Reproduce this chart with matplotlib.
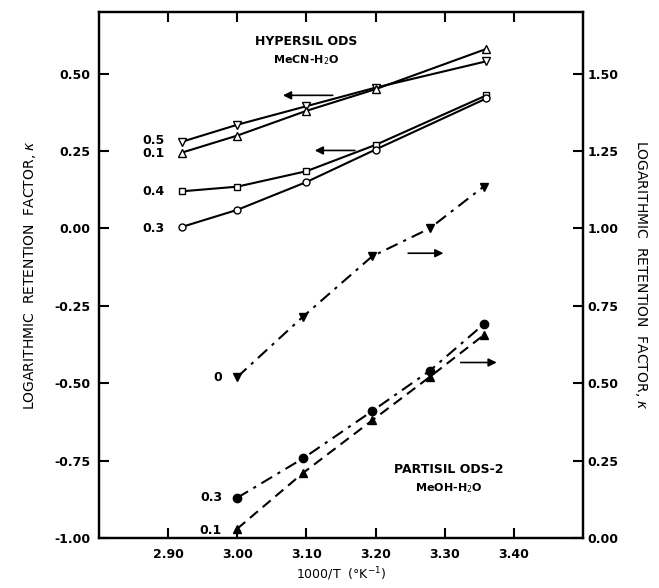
import numpy as np
import matplotlib
matplotlib.use("Agg")
import matplotlib.pyplot as plt

# Hypersil ODS, MeCN-H2O  (left axis)
x_hyp = [2.92, 3.00, 3.10, 3.20, 3.36]
hyp_05 = [0.28, 0.335, 0.395, 0.455, 0.54]
hyp_01 = [0.245, 0.30, 0.38, 0.45, 0.58]
hyp_04 = [0.12, 0.135, 0.185, 0.27, 0.43]
hyp_03 = [0.005, 0.06, 0.15, 0.255, 0.42]

# Partisil ODS-2, MeOH-H2O  (right axis)
x_par = [3.00, 3.095, 3.195, 3.278, 3.356]
par_0 = [0.52, 0.715, 0.91, 1.00, 1.135]
par_03 = [0.13, 0.257, 0.41, 0.54, 0.69]
par_01 = [0.03, 0.21, 0.38, 0.52, 0.655]

xticks = [2.90, 3.00, 3.10, 3.20, 3.30, 3.40]
yticks_left = [-1.00, -0.75, -0.50, -0.25, 0.00, 0.25, 0.50]
yticks_right = [0.00, 0.25, 0.50, 0.75, 1.00, 1.25, 1.50]

plt.rcParams['font.family'] = ['DejaVu Sans']

fig = plt.figure(figsize=(6.59, 5.88), dpi=100)
ax = fig.add_axes([0.150, 0.085, 0.735, 0.895])
ax2 = ax.twinx()

k = dict(color='black', lw=1.5, mec='black', ms=6)
ax.plot(x_hyp, hyp_05, marker='v', mfc='white', **k)
ax.plot(x_hyp, hyp_01, marker='^', mfc='white', **k)
ax.plot(x_hyp, hyp_04, marker='s', mfc='white', ms=5, color='black', lw=1.5, mec='black')
ax.plot(x_hyp, hyp_03, marker='o', mfc='white', ms=5, color='black', lw=1.5, mec='black')

ax2.plot(x_par, par_0, marker='v', mfc='black', linestyle=(0, (6, 3, 1.5, 3)), **k)
ax2.plot(x_par, par_03, marker='o', mfc='black', linestyle=(0, (6, 3, 1.5, 3)), **k)
ax2.plot(x_par, par_01, marker='^', mfc='black', linestyle=(0, (5, 3)), **k)

ax.set_xlim(2.80, 3.50)
ax.set_ylim(-1.00, 0.70)
ax2.set_ylim(0.00, 1.70)

ax.set_xticks(xticks)
ax.set_xticklabels(['%.2f' % v for v in xticks], fontweight='bold', fontsize=9)
ax.set_yticks(yticks_left)
ax.set_yticklabels(['%.2f' % v for v in yticks_left], fontweight='bold', fontsize=9)
ax2.set_yticks(yticks_right)
ax2.set_yticklabels(['%.2f' % v for v in yticks_right], fontweight='bold', fontsize=9)

ax.tick_params(axis='x', direction='in', length=7, width=1.5, top=True, pad=7)
ax.tick_params(axis='y', direction='in', length=7, width=1.5, pad=6)
ax2.tick_params(axis='y', direction='in', length=7, width=1.5, pad=3)
for a in (ax, ax2):
    for s in a.spines.values():
        s.set_linewidth(1.6)

ax.set_xlabel('1000/T  (°K$^{-1}$)', fontsize=9, labelpad=3)
ax.set_ylabel('LOGARITHMIC  RETENTION  FACTOR, $\\kappa$', fontsize=10, labelpad=12)
ax2.set_ylabel('LOGARITHMIC  RETENTION  FACTOR, $\\kappa$', fontsize=10,
               rotation=-90, labelpad=22)

# series labels
lab = dict(ha='right', va='center', fontsize=9, fontweight='bold')
ax.text(2.895, 0.285, '0.5', **lab)
ax.text(2.895, 0.242, '0.1', **lab)
ax.text(2.895, 0.12, '0.4', **lab)
ax.text(2.895, 0.0, '0.3', **lab)
ax.text(2.978, -0.48, '0', **lab)
ax.text(2.978, -0.87, '0.3', **lab)
ax.text(2.978, -0.975, '0.1', **lab)

ax.text(3.10, 0.605, 'HYPERSIL ODS', ha='center', va='center', fontsize=9, fontweight='bold')
ax.text(3.10, 0.545, 'MeCN-H$_2$O', ha='center', va='center', fontsize=8, fontweight='bold')
ax.text(3.305, -0.78, 'PARTISIL ODS-2', ha='center', va='center', fontsize=9, fontweight='bold')
ax.text(3.305, -0.84, 'MeOH-H$_2$O', ha='center', va='center', fontsize=8, fontweight='bold')

arr = dict(arrowstyle='-|>', color='black', lw=1.2, mutation_scale=12)
ax.annotate('', xy=(3.062, 0.43), xytext=(3.142, 0.43), arrowprops=arr)
ax.annotate('', xy=(3.108, 0.252), xytext=(3.174, 0.252), arrowprops=arr)
ax.annotate('', xy=(3.302, -0.08), xytext=(3.243, -0.08), arrowprops=arr)
ax.annotate('', xy=(3.379, -0.433), xytext=(3.319, -0.433), arrowprops=arr)

fig.savefig('out.png', dpi=100)
